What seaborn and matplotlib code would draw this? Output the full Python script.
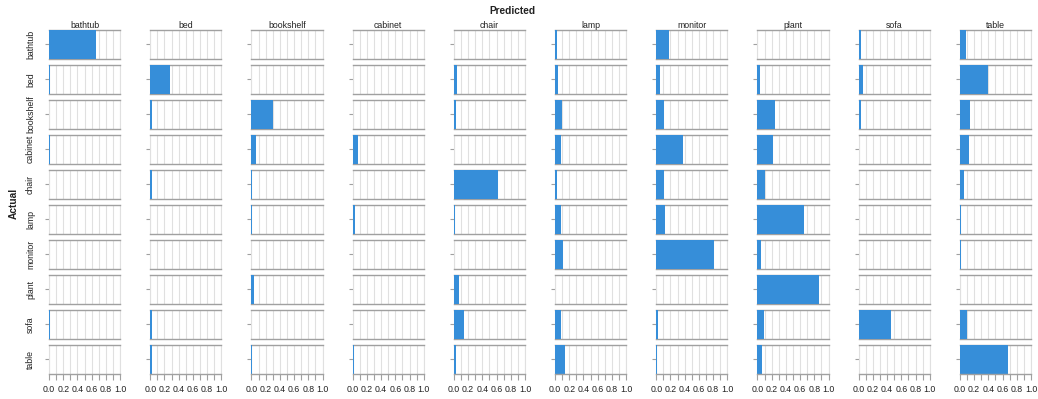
import matplotlib
matplotlib.use("Agg")
import matplotlib.pyplot as plt
import seaborn as sns
import pandas as pd
import numpy as np

classes = ["bathtub", "bed", "bookshelf", "cabinet", "chair",
           "lamp", "monitor", "plant", "sofa", "table"]

# rows = actual class, values = share predicted as each class (column order = classes)
bathtub_row   = [0.66, 0.00, 0.00, 0.00, 0.00, 0.03, 0.18, 0.00, 0.03, 0.08]
bed_row       = [0.01, 0.28, 0.00, 0.01, 0.04, 0.04, 0.05, 0.04, 0.06, 0.40]
bookshelf_row = [0.00, 0.02, 0.30, 0.00, 0.03, 0.10, 0.11, 0.24, 0.03, 0.14]
cabinet_row   = [0.01, 0.00, 0.06, 0.08, 0.005, 0.08, 0.38, 0.22, 0.00, 0.13]
chair_row     = [0.005, 0.02, 0.005, 0.00, 0.62, 0.03, 0.11, 0.10, 0.01, 0.06]
lamp_row      = [0.00, 0.00, 0.015, 0.035, 0.02, 0.09, 0.12, 0.65, 0.00, 0.02]
monitor_row   = [0.00, 0.00, 0.00, 0.00, 0.00, 0.11, 0.81, 0.05, 0.00, 0.01]
plant_row     = [0.00, 0.00, 0.04, 0.00, 0.075, 0.00, 0.00, 0.87, 0.00, 0.00]
sofa_row      = [0.02, 0.03, 0.00, 0.00, 0.15, 0.08, 0.03, 0.09, 0.46, 0.10]
table_row     = [0.00, 0.025, 0.005, 0.015, 0.03, 0.145, 0.005, 0.065, 0.01, 0.67]

x_tick_values = [0.0, 0.2, 0.4, 0.6, 0.8, 1.0]
x_tick_labels = ["0.0", "0.2", "0.4", "0.6", "0.8", "1.0"]

rows = [bathtub_row, bed_row, bookshelf_row, cabinet_row, chair_row,
        lamp_row, monitor_row, plant_row, sofa_row, table_row]
records = []
for a, r in zip(classes, rows):
    for p, v in zip(classes, r):
        records.append({"actual": a, "predicted": p, "value": v, "bar": ""})
df = pd.DataFrame(records)

sns.set_theme(style="white")
plt.rcParams["font.family"] = ["Liberation Sans", "DejaVu Sans"]

W, H = 1038, 399
fig, axes = plt.subplots(10, 10, figsize=(W / 100, H / 100), dpi=100)
fig.subplots_adjust(left=49 / W, right=1031 / W, top=1 - 30 / H,
                    bottom=1 - 373.7 / H, wspace=30 / 71, hspace=6.3 / 28.7)

bar_color = "#368ed9"
grid_c = "#e0e0e0"
dom_c = "#a0a0a0"
fs = 6.3

for i, a in enumerate(classes):
    for j, p in enumerate(classes):
        ax = axes[i, j]
        sub = df[(df.actual == a) & (df.predicted == p)]
        sns.barplot(data=sub, x="value", y="bar", orient="h", ax=ax,
                    color=bar_color, saturation=1, width=1.0,
                    errorbar=None, edgecolor="none", linewidth=0, zorder=3)
        ax.set_xlim(0, 1)
        ax.set_ylim(0.5, -0.5)
        ax.set_xticks(np.arange(0, 1.01, 0.1), minor=True)
        ax.set_xticks(x_tick_values)
        ax.grid(True, axis="x", which="both", color=grid_c, linewidth=0.8, zorder=0)
        ax.set_axisbelow(True)
        for s in ["top", "bottom"]:
            ax.spines[s].set_color(dom_c)
            ax.spines[s].set_linewidth(1.0)
        for s in ["left", "right"]:
            ax.spines[s].set_color(grid_c)
            ax.spines[s].set_linewidth(0.8)
        ax.set_yticks([0])
        ax.set_yticklabels([])
        ax.tick_params(axis="y", which="both", left=True, length=3, width=0.8,
                       color=dom_c, pad=1)
        ax.set_xlabel("")
        ax.set_ylabel("")
        if i == 9:
            ax.set_xticklabels(x_tick_labels, fontsize=fs, color="#222222")
            ax.tick_params(axis="x", which="both", bottom=True, length=4,
                           width=0.8, color=dom_c, pad=4)
            ax.spines["bottom"].set_zorder(5)
        else:
            ax.set_xticklabels([])
            ax.tick_params(axis="x", which="both", bottom=False, length=0)
        if i == 0:
            ax.set_title(p, fontsize=fs, pad=1.5, color="#222222")
        if j == 0:
            ax.set_ylabel(a, fontsize=fs, labelpad=6, color="#222222")

fig.text(512 / W, 1 - 11 / H, "Predicted", ha="center", va="center",
         fontsize=7.3, fontweight="bold", color="#222222")
fig.text(14 / W, 1 - 203 / H, "Actual", ha="center", va="center",
         rotation=90, fontsize=7.3, fontweight="bold", color="#222222")

fig.savefig("out.png", dpi=100, facecolor="white")
